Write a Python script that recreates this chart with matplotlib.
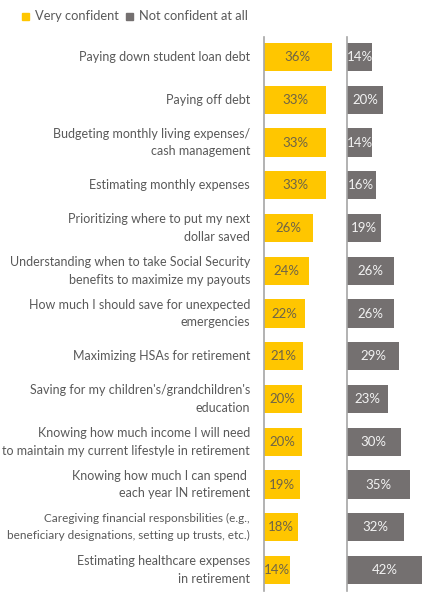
import matplotlib.pyplot as plt
import numpy as np
from matplotlib.patches import Rectangle

plt.rcParams['font.family'] = ['Lato', 'DejaVu Sans']

categories = [
    'Paying down student loan debt',
    'Paying off debt',
    'Budgeting monthly living expenses/\ncash management',
    'Estimating monthly expenses',
    'Prioritizing where to put my next\ndollar saved',
    'Understanding when to take Social Security\nbenefits to maximize my payouts',
    'How much I should save for unexpected\nemergencies',
    'Maximizing HSAs for retirement',
    "Saving for my children's/grandchildren's\neducation",
    'Knowing how much income I will need\nto maintain my current lifestyle in retirement',
    'Knowing how much I can spend \neach year IN retirement',
    'Caregiving financial responsbilities (e.g.,\nbeneficiary designations, setting up trusts, etc.)',
    'Estimating healthcare expenses\nin retirement',
]
very_confident = [36, 33, 33, 33, 26, 24, 22, 21, 20, 20, 19, 18, 14]
not_confident = [14, 20, 14, 16, 19, 26, 26, 29, 23, 30, 35, 32, 42]

YELLOW = '#FFC600'
GREY = '#747070'
TEXT = '#595959'
W, H = 430, 597

fig = plt.figure(figsize=(W / 100, H / 100), dpi=100)

top, bottom = 37, 591
ax1 = fig.add_axes([264 / W, 1 - bottom / H, 76 / W, (bottom - top) / H])
ax2 = fig.add_axes([347 / W, 1 - bottom / H, 83 / W, (bottom - top) / H])

y = np.arange(len(categories))
ax1.barh(y, very_confident, height=0.66, color=YELLOW)
ax2.barh(y, not_confident, height=0.66, color=GREY)
ax1.set_xlim(0, 76 / 1.88)
ax2.set_xlim(0, 83 / 1.79)

for ax in (ax1, ax2):
    ax.set_ylim(12.49, -0.47)
    ax.set_xticks([])
    ax.set_yticks([])
    for s in ['top', 'right', 'bottom']:
        ax.spines[s].set_visible(False)
    ax.spines['left'].set_color('#a6a6a6')
    ax.spines['left'].set_linewidth(1.2)
    ax.patch.set_alpha(0)

for i, v in enumerate(very_confident):
    ax1.text(v / 2, i, f'{v}%', ha='center', va='center', fontsize=9.5, color='#6e6448')
for i, v in enumerate(not_confident):
    ax2.text(v / 2, i, f'{v}%', ha='center', va='center', fontsize=9.5, color='#f2f2f2')

for i, c in enumerate(categories):
    # the caregiving label is set tighter in the original
    fs = 8.5 if c.startswith('Caregiving') else 9
    ax1.text(-14 / 1.88, i, c, ha='right', va='center', fontsize=fs, color=TEXT,
             linespacing=1.55 * 9 / fs, transform=ax1.transData)

# legend
fig.patches.append(Rectangle((22 / W, 1 - 20 / H), 7 / W, 7 / H, color=YELLOW,
                             transform=fig.transFigure, figure=fig))
fig.text(35 / W, 1 - 16.5 / H, 'Very confident', ha='left', va='center', fontsize=9.3, color=TEXT)
fig.patches.append(Rectangle((126 / W, 1 - 20 / H), 7 / W, 7 / H, color=GREY,
                             transform=fig.transFigure, figure=fig))
fig.text(139 / W, 1 - 16.5 / H, 'Not confident at all', ha='left', va='center', fontsize=9.3, color=TEXT)

fig.savefig('out.png', dpi=100)
